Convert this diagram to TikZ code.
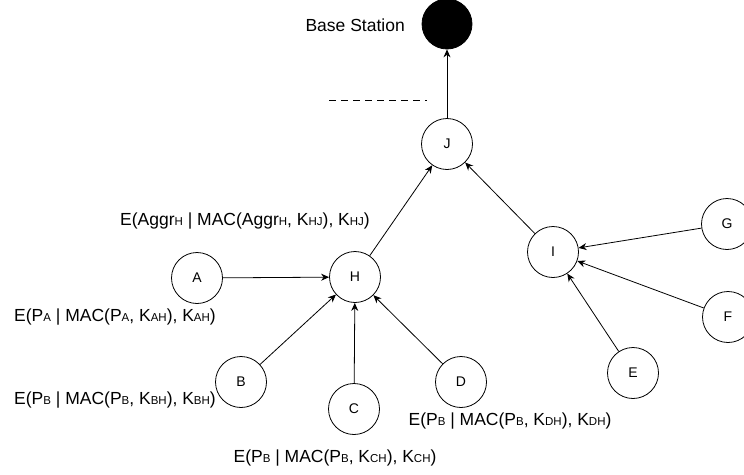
\documentclass[tikz,border=0pt]{standalone}
\usepackage{fontspec}
\setmainfont{Liberation Sans}
\usetikzlibrary{arrows.meta}
\newcommand{\sbs}[1]{{\fontsize{11.5}{12}\selectfont #1}}
\begin{document}
\begin{tikzpicture}[x=1pt,y=-1pt,
  nd/.style={circle,draw,line width=0.8pt,minimum size=51pt,inner sep=0pt,font=\fontsize{14}{16}\selectfont},
  lbl/.style={inner sep=0pt,font=\fontsize{17.5}{20}\selectfont},
  arr/.style={-{Stealth[length=8pt,width=7pt]},line width=0.8pt}]
\useasboundingbox (0,0) rectangle (744,474);
\node[nd,fill=black,minimum size=50pt] (BS) at (447,24) {};
\node[nd] (J) at (447,144) {J};
\node[nd] (H) at (355,277) {H};
\node[nd] (A) at (197,278) {A};
\node[nd] (B) at (241,382) {B};
\node[nd] (C) at (354,409) {C};
\node[nd] (D) at (461,382) {D};
\node[nd] (I) at (553,252) {I};
\node[nd] (G) at (727,224) {G};
\node[nd] (F) at (728,317) {F};
\node[nd] (E) at (633,373) {E};
\node[lbl,anchor=east] (bsl) at (405,25) {Base Station};
\coordinate (d1) at (329,100);
\coordinate (d2) at (427,100);
\draw[dashed,dash pattern=on 7pt off 5pt,line width=0.8pt] (d1) -- (d2);
\draw[arr] (J) -- (BS);
\draw[arr] (H) -- (J);
\draw[arr] (I) -- (J);
\draw[arr] (A) -- (H);
\draw[arr] (B) -- (H);
\draw[arr] (C) -- (H);
\draw[arr] (D) -- (H);
\draw[arr] (G) -- (I);
\draw[arr] (F) -- (I);
\draw[arr] (E) -- (I);
\node[lbl] (lh) at (245,221) {E(Aggr\sbs{H} | MAC(Aggr\sbs{H}, K\sbs{HJ}), K\sbs{HJ})};
\node[lbl] (la) at (115,317) {E(P\sbs{A} | MAC(P\sbs{A}, K\sbs{AH}), K\sbs{AH})};
\node[lbl] (lb) at (115,400) {E(P\sbs{B} | MAC(P\sbs{B}, K\sbs{BH}), K\sbs{BH})};
\node[lbl] (ld) at (510,421) {E(P\sbs{B} | MAC(P\sbs{B}, K\sbs{DH}), K\sbs{DH})};
\node[lbl] (lc) at (335,458) {E(P\sbs{B} | MAC(P\sbs{B}, K\sbs{CH}), K\sbs{CH})};
\end{tikzpicture}
\end{document}
